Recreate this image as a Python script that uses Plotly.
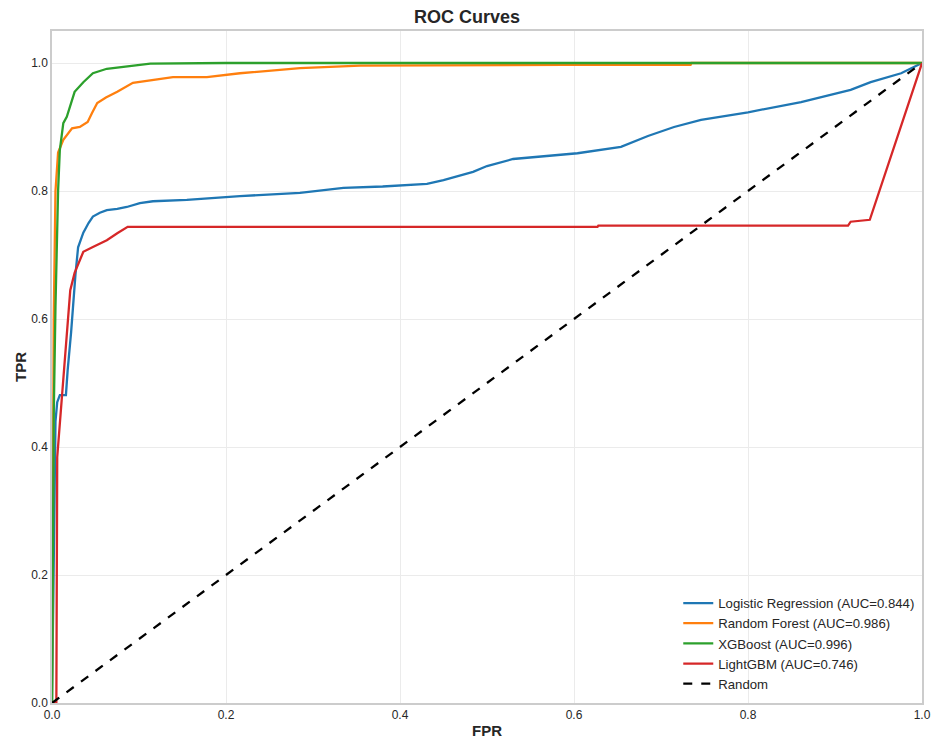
import plotly.graph_objects as go

# Logistic Regression
lr_fpr = [0.0, 0.003, 0.004, 0.006, 0.009, 0.016, 0.018, 0.022, 0.024, 0.027, 0.030, 0.036, 0.042, 0.047, 0.055, 0.063, 0.075, 0.086, 0.101, 0.116, 0.155, 0.216, 0.285, 0.335, 0.380, 0.404, 0.431, 0.450, 0.484, 0.500, 0.530, 0.604, 0.654, 0.685, 0.715, 0.746, 0.800, 0.861, 0.918, 0.941, 0.976, 1.0]
lr_tpr = [0.0, 0.38, 0.44, 0.47, 0.481, 0.481, 0.52, 0.58, 0.62, 0.67, 0.712, 0.735, 0.75, 0.76, 0.766, 0.770, 0.772, 0.775, 0.781, 0.784, 0.786, 0.792, 0.797, 0.805, 0.807, 0.809, 0.811, 0.817, 0.830, 0.839, 0.850, 0.859, 0.869, 0.886, 0.900, 0.911, 0.923, 0.939, 0.958, 0.970, 0.984, 1.0]

# Random Forest
rf_fpr = [0.0, 0.002, 0.004, 0.007, 0.013, 0.023, 0.032, 0.041, 0.046, 0.052, 0.062, 0.075, 0.093, 0.116, 0.139, 0.178, 0.216, 0.285, 0.354, 0.588, 0.734, 0.735, 1.0]
rf_tpr = [0.0, 0.60, 0.80, 0.86, 0.88, 0.898, 0.900, 0.908, 0.922, 0.9375, 0.946, 0.955, 0.969, 0.973, 0.978, 0.978, 0.984, 0.992, 0.996, 0.997, 0.997, 1.0, 1.0]

# XGBoost
xgb_fpr = [0.0, 0.002, 0.004, 0.007, 0.009, 0.013, 0.017, 0.021, 0.026, 0.036, 0.047, 0.063, 0.086, 0.113, 0.2, 1.0]
xgb_tpr = [0.0, 0.45, 0.62, 0.80, 0.864, 0.906, 0.916, 0.934, 0.955, 0.970, 0.984, 0.991, 0.995, 0.999, 1.0, 1.0]

# LightGBM
lgb_fpr = [0.0, 0.005, 0.006, 0.011, 0.015, 0.018, 0.021, 0.026, 0.036, 0.047, 0.063, 0.075, 0.087, 0.627, 0.628, 0.915, 0.918, 0.940, 1.0]
lgb_tpr = [0.0, 0.0, 0.384, 0.473, 0.55, 0.603, 0.645, 0.672, 0.705, 0.7125, 0.723, 0.734, 0.744, 0.744, 0.746, 0.746, 0.752, 0.755, 1.0]

rand_x = [0.0, 1.0]
rand_y = [0.0, 1.0]

names = ["Logistic Regression (AUC=0.844)", "Random Forest (AUC=0.986)",
         "XGBoost (AUC=0.996)", "LightGBM (AUC=0.746)"]
colors = ["#1f77b4", "#ff7f0e", "#2ca02c", "#d62728"]

fig = go.Figure()
for fx, ty, nm, c in zip([lr_fpr, rf_fpr, xgb_fpr, lgb_fpr],
                         [lr_tpr, rf_tpr, xgb_tpr, lgb_tpr], names, colors):
    fig.add_trace(go.Scatter(x=fx, y=ty, mode="lines", name=nm,
                             line=dict(color=c, width=2.3)))
fig.add_trace(go.Scatter(x=rand_x, y=rand_y, mode="lines", name="Random",
                         line=dict(color="black", width=2.3, dash="dash")))

font_family = "Liberation Sans, Arial, sans-serif"
fig.update_layout(
    width=934, height=739,
    margin=dict(l=52, r=12, t=31, b=36),
    paper_bgcolor="white", plot_bgcolor="white",
    font=dict(family=font_family, size=12, color="#262626"),
    title=dict(text="<b>ROC Curves</b>", x=0.5, xanchor="center", y=0.977, yanchor="middle",
               font=dict(size=18, color="#262626")),
    legend=dict(x=0.998, xanchor="right", y=0.006, yanchor="bottom",
                bgcolor="rgba(0,0,0,0)", borderwidth=0,
                font=dict(size=13.2, color="#262626"), tracegroupgap=0),
    showlegend=True,
)
fig.update_xaxes(range=[0, 1], tickvals=[0, 0.2, 0.4, 0.6, 0.8, 1.0], tickformat=".1f",
                 showgrid=True, gridcolor="#ebebeb", gridwidth=1, automargin=False,
                 showline=True, linecolor="#cccccc", linewidth=1.5, mirror=True,
                 zeroline=False, ticks="", ticklen=0,
                 title=dict(text="<b>FPR</b>", font=dict(size=15), standoff=6))
fig.update_yaxes(range=[0, 1.05], tickvals=[0, 0.2, 0.4, 0.6, 0.8, 1.0], tickformat=".1f",
                 showgrid=True, gridcolor="#ebebeb", gridwidth=1, automargin=False,
                 showline=True, linecolor="#cccccc", linewidth=1.5, mirror=True,
                 zeroline=False, ticks="", ticklen=0,
                 title=dict(text="<b>TPR</b>", font=dict(size=15), standoff=1))

fig.write_html("out.html")
